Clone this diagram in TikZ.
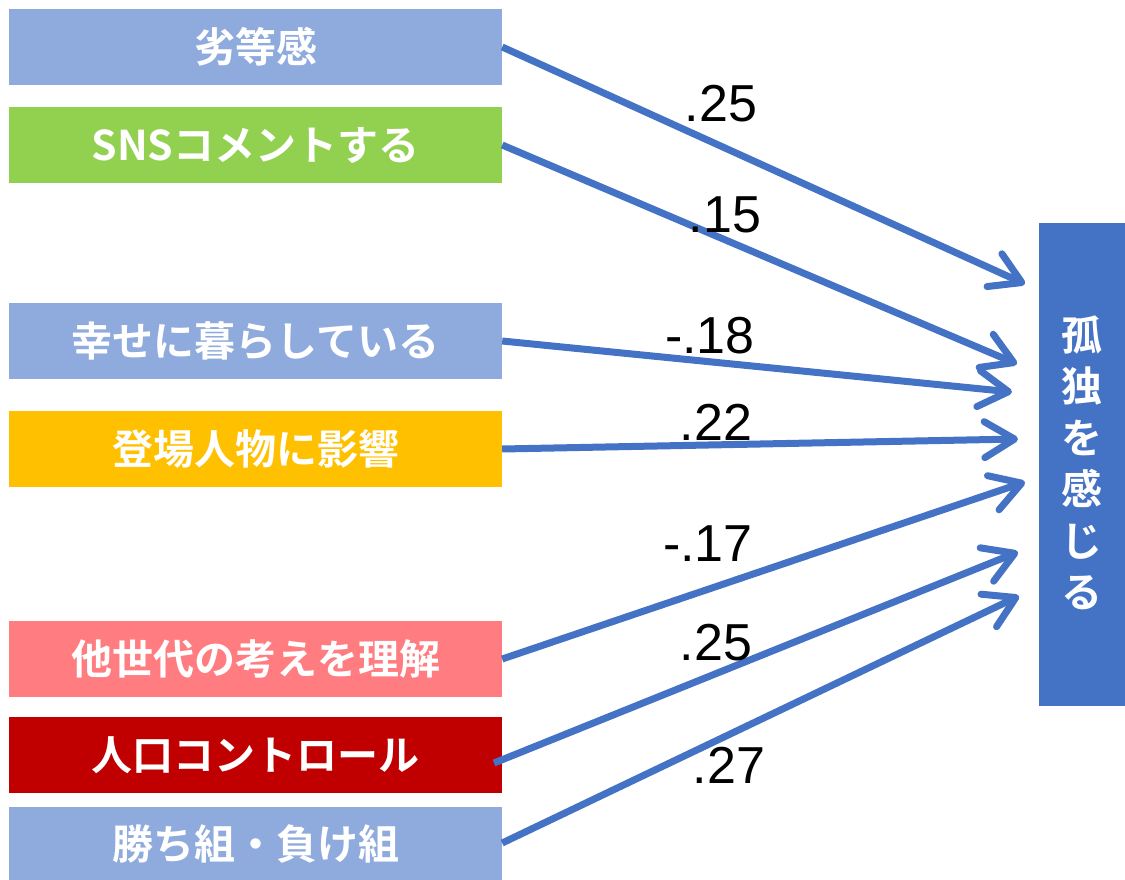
\documentclass[tikz,border=0pt]{standalone}
\usepackage{fontspec}
\usetikzlibrary{arrows.meta}
\newfontfamily\jp{Noto Sans CJK JP}[UprightFont=* Bold]
\newfontfamily\numfont{Liberation Sans}
\definecolor{lblue}{HTML}{8FAADC}
\definecolor{lgreen}{HTML}{92D050}
\definecolor{lyellow}{HTML}{FFC000}
\definecolor{lpink}{HTML}{FF7C80}
\definecolor{dred}{HTML}{C00000}
\definecolor{dblue}{HTML}{4472C4}
\tikzset{
  factor/.style={rectangle, minimum width=493pt, minimum height=76pt, inner sep=0pt,
    text=white, font=\jp\fontsize{41}{46}\selectfont},
  coef/.style={anchor=base, inner sep=0pt, font=\numfont\fontsize{52}{56}\selectfont},
  link/.style={draw=dblue, line width=7pt, -{Straight Barb[length=30pt,width=36pt,round]}}
}
\begin{document}
\begin{tikzpicture}[x=1pt,y=-1pt]
\useasboundingbox (0,0) rectangle (1125,880);
\node[factor, fill=lblue] (b1) at (255.5,47) {劣等感};
\node[factor, fill=lgreen] (b2) at (255.5,145) {SNSコメントする};
\node[factor, fill=lblue] (b3) at (255.5,341) {幸せに暮らしている};
\node[factor, fill=lyellow] (b4) at (255.5,449) {登場人物に影響};
\node[factor, fill=lpink] (b5) at (255.5,659) {他世代の考えを理解};
\node[factor, fill=dred] (b6) at (255.5,755) {人口コントロール};
\node[factor, fill=lblue, minimum height=74pt] (b7) at (255.5,844) {勝ち組・負け組};
\node[rectangle, fill=dblue, minimum width=86pt, minimum height=483pt, inner sep=0pt] (y) at (1082,464.5) {};
\node[text=white, align=center, inner sep=0pt, font=\jp\fontsize{41}{51.5}\selectfont] (ylab) at (1082,463) {孤\\独\\を\\感\\じ\\る};
\coordinate (t1) at (1025,284);
\coordinate (t2) at (1017,364);
\coordinate (t3) at (1012,392);
\coordinate (t4) at (1018,439);
\coordinate (t5) at (1025,482);
\coordinate (t6) at (1018,552);
\coordinate (t7) at (1019,596);
\coordinate (s6) at (494,763);
\draw[link] (b1.east) -- (t1);
\draw[link] (b2.east) -- (t2);
\draw[link] (b3.east) -- (t3);
\draw[link] (b4.east) -- (t4);
\draw[link] (b5.east) -- (t5);
\draw[link] (s6) -- (t6);
\draw[link] ([yshift=1pt]b7.east) -- (t7);
\node[coef] (c1) at (721,122) {.25};
\node[coef] (c2) at (725,232) {.15};
\node[coef] (c3) at (710,353) {-.18};
\node[coef] (c4) at (716,440) {.22};
\node[coef] (c5) at (708,561) {-.17};
\node[coef] (c6) at (716,660) {.25};
\node[coef] (c7) at (729,783) {.27};
\end{tikzpicture}
\end{document}
